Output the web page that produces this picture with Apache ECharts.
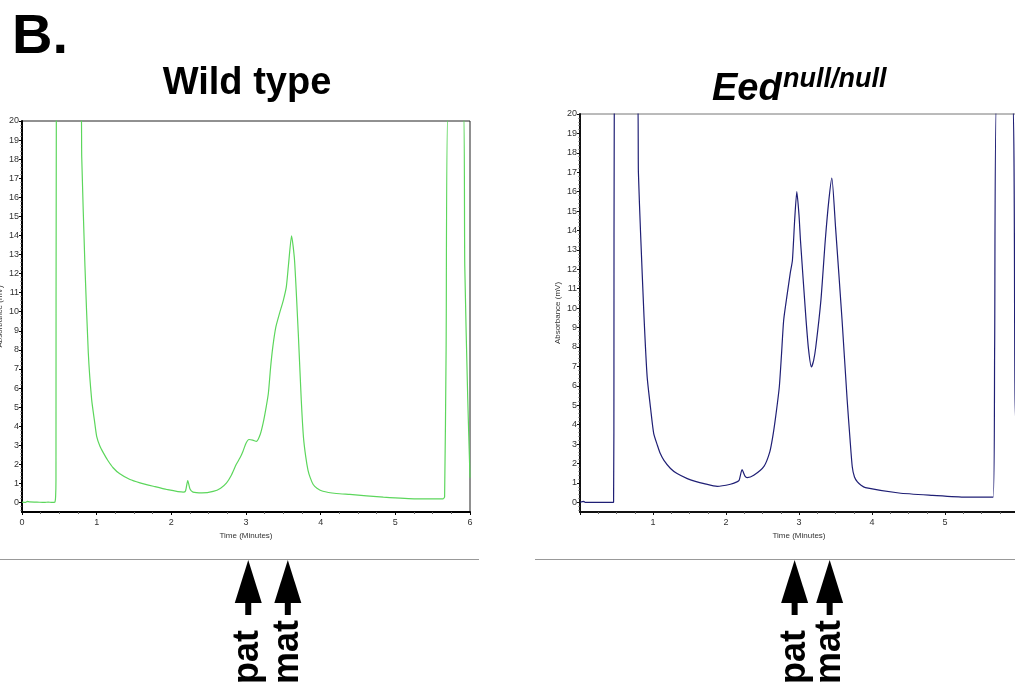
<!DOCTYPE html>
<html><head><meta charset="utf-8">
<script src="https://cdn.jsdelivr.net/npm/echarts@6/dist/echarts.min.js"></script>
<style>html,body{margin:0;padding:0;background:#fff}#c{width:1015px;height:692px}</style>
</head><body><div id="c"></div>
<script>
// ---- Data ----
const wtTime = [0, 0.05, 0.07, 0.1, 0.2, 0.3, 0.35, 0.4, 0.44, 0.45, 0.455, 0.46, 0.79, 0.80, 0.843, 0.888, 0.933, 0.97, 1.0, 1.044, 1.09, 1.15, 1.22, 1.31, 1.446, 1.58, 1.76, 1.94, 2.16, 2.19, 2.22, 2.25, 2.29, 2.41, 2.56, 2.66, 2.74, 2.80, 2.87, 2.92, 2.96, 3.0, 3.04, 3.09, 3.14, 3.19, 3.23, 3.27, 3.30, 3.33, 3.36, 3.40, 3.45, 3.50, 3.54, 3.57, 3.61, 3.65, 3.70, 3.74, 3.77, 3.80, 3.83, 3.86, 3.90, 3.95, 4.03, 4.21, 4.39, 4.84, 5.28, 5.64, 5.66, 5.68, 5.71, 5.91, 5.93, 5.97, 6.0];
const wtAbs  = [0.02, 0.0, 0.06, 0.03, 0.02, 0.0, 0.02, 0.0, 0.02, 0.3, 1.2, 21, 21, 18.1, 12.4, 7.84, 5.39, 4.3, 3.47, 2.95, 2.6, 2.2, 1.82, 1.5, 1.2, 1.03, 0.85, 0.68, 0.54, 0.6, 1.15, 0.7, 0.54, 0.5, 0.58, 0.75, 1.03, 1.4, 2.0, 2.34, 2.69, 3.1, 3.3, 3.27, 3.2, 3.56, 4.17, 5.0, 5.74, 7.1, 8.18, 9.2, 9.93, 10.6, 11.3, 12.5, 13.98, 12.7, 8.88, 5.39, 3.4, 2.4, 1.7, 1.3, 0.94, 0.75, 0.59, 0.47, 0.42, 0.28, 0.19, 0.19, 0.3, 8, 21, 21, 12.4, 5.4, 1.3];

const eedTime = [0, 0.05, 0.07, 0.2, 0.46, 0.465, 0.47, 0.79, 0.80, 0.83, 0.877, 0.92, 0.97, 1.01, 1.06, 1.10, 1.15, 1.24, 1.33, 1.47, 1.58, 1.70, 1.88, 2.06, 2.15, 2.18, 2.22, 2.26, 2.29, 2.38, 2.52, 2.60, 2.64, 2.68, 2.73, 2.76, 2.79, 2.84, 2.88, 2.91, 2.94, 2.97, 3.0, 3.02, 3.09, 3.13, 3.17, 3.20, 3.23, 3.30, 3.36, 3.41, 3.45, 3.50, 3.59, 3.66, 3.70, 3.73, 3.76, 3.80, 3.85, 3.91, 4.37, 4.83, 5.28, 5.66, 5.68, 5.71, 5.92, 5.96, 6.0];
const eedAbs  = [0.0, 0.05, 0.0, 0.0, 0.0, 7, 21, 21, 17, 13.85, 9.55, 6.46, 4.74, 3.54, 2.94, 2.51, 2.16, 1.74, 1.48, 1.22, 1.08, 0.96, 0.82, 0.93, 1.05, 1.13, 1.68, 1.35, 1.27, 1.39, 1.85, 2.6, 3.37, 4.4, 5.94, 7.6, 9.38, 10.76, 11.8, 12.47, 14.5, 16.0, 14.8, 13.5, 9.73, 7.9, 6.97, 7.3, 8.0, 10.4, 13.5, 15.6, 16.7, 14.2, 9.38, 5.26, 3.2, 1.82, 1.3, 1.05, 0.88, 0.76, 0.48, 0.36, 0.27, 0.27, 8, 21, 21, 5.3, 1.5];

const yTickLabels = [0,1,2,3,4,5,6,7,8,9,10,11,12,13,14,15,16,17,18,19,20];
const wtXTickLabels = [0,1,2,3,4,5,6];
const eedXTickLabels = [1,2,3,4,5,6];
const wtArrowTimes = [3.03, 3.56];
const eedArrowTimes = [2.94, 3.42];
const arrowLabels = ['pat', 'mat'];
const arrowLabelTops = [630, 620];

// minor tick positions on the absorbance axes (every 0.2 mV)
const minorY = [];
for (let k = -2; k <= 100; k++) { if (k % 5 !== 0) minorY.push(Math.round(k * 20) / 100); }

const FONT = '"Liberation Sans", Arial, Helvetica, sans-serif';
const chart = echarts.init(document.getElementById('c'), null, {renderer: 'canvas'});

function yMain(gi, col) {
  return {
    gridIndex: gi, type: 'value', min: -0.5, max: 20, position: 'left',
    axisLine: {show: true, onZero: false, lineStyle: {color: col, width: 2}},
    axisTick: {show: true, customValues: yTickLabels, length: 3, lineStyle: {color: col}},
    axisLabel: {customValues: yTickLabels, fontSize: 9, color: '#333', margin: 3, fontFamily: FONT},
    splitLine: {show: false},
    name: 'Absorbance (mV)', nameLocation: 'middle', nameGap: 18,
    nameTextStyle: {fontSize: 8, color: '#333', fontFamily: FONT}
  };
}
function yMinor(gi, col) {
  return {
    gridIndex: gi, type: 'value', min: -0.5, max: 20, position: 'left', offset: 0,
    axisLine: {show: false},
    axisTick: {show: true, customValues: minorY, length: 1.5, lineStyle: {color: col}},
    axisLabel: {show: false}, splitLine: {show: false}
  };
}
function xMain(gi, col, labels) {
  return {
    gridIndex: gi, type: 'value', min: 0, max: 6, interval: 1,
    axisLine: {show: true, onZero: false, lineStyle: {color: col, width: 2}},
    axisTick: {show: true, length: 3, lineStyle: {color: col}},
    minorTick: {show: true, splitNumber: 4, length: 2, lineStyle: {color: '#666'}},
    axisLabel: {customValues: labels, fontSize: 9, color: '#333', margin: 6, fontFamily: FONT},
    splitLine: {show: false}, minorSplitLine: {show: false},
    name: 'Time (Minutes)', nameLocation: 'middle', nameGap: 19,
    nameTextStyle: {fontSize: 8, color: '#333', fontFamily: FONT}
  };
}

chart.setOption({
  animation: false,
  backgroundColor: '#fff',
  grid: [
    {left: 22, top: 121, width: 448, height: 391, show: true, borderColor: '#222', borderWidth: 1, backgroundColor: 'transparent', containLabel: false, outerBoundsMode: 'none'},
    {left: 580, top: 114, width: 438, height: 398, show: true, borderColor: '#777', borderWidth: 1, backgroundColor: 'transparent', containLabel: false, outerBoundsMode: 'none'}
  ],
  xAxis: [xMain(0, '#000', wtXTickLabels), xMain(1, '#111', eedXTickLabels)],
  yAxis: [yMain(0, '#000'), yMinor(0, '#555'), yMain(1, '#111'), yMinor(1, '#555')],
  series: [
    {type: 'line', xAxisIndex: 0, yAxisIndex: 0, showSymbol: false, clip: true, smooth: 0.2,
     lineStyle: {color: '#5cd65c', width: 1.2},
     data: wtTime.map((t, i) => [t, wtAbs[i]])},
    {type: 'line', xAxisIndex: 1, yAxisIndex: 2, showSymbol: false, clip: true, smooth: 0.2,
     lineStyle: {color: '#1f1f75', width: 1.2},
     data: eedTime.map((t, i) => [t, eedAbs[i]])}
  ]
});

function arrows(xIdx, times) {
  const els = [];
  times.forEach((t, i) => {
    const x = chart.convertToPixel({xAxisIndex: xIdx}, t);
    els.push({type: 'polygon', shape: {points: [[x - 13.5, 603], [x, 560], [x + 13.5, 603]]}, style: {fill: '#000'}});
    els.push({type: 'rect', shape: {x: x - 3, y: 602, width: 6, height: 13}, style: {fill: '#000'}});
    els.push({type: 'text', x: x, y: arrowLabelTops[i], rotation: Math.PI / 2,
      style: {text: arrowLabels[i], font: 'bold 36px ' + FONT, fill: '#000', align: 'right', verticalAlign: 'middle'}});
  });
  return els;
}

chart.setOption({
  graphic: [
    {type: 'text', x: 12, y: 38, style: {text: 'B.', font: 'bold 56px ' + FONT, fill: '#000', align: 'left', verticalAlign: 'middle'}},
    {type: 'text', x: 247, y: 84, style: {text: 'Wild type', font: 'bold 38px ' + FONT, fill: '#000', align: 'center', verticalAlign: 'middle'}},
    {type: 'text', x: 712, y: 90, style: {text: 'Eed', font: 'italic bold 38px ' + FONT, fill: '#000', align: 'left', verticalAlign: 'middle'}},
    {type: 'text', x: 783, y: 80, style: {text: 'null/null', font: 'italic bold 27px ' + FONT, fill: '#000', align: 'left', verticalAlign: 'middle'}},
    {type: 'line', shape: {x1: 0, y1: 559.5, x2: 479, y2: 559.5}, style: {stroke: '#999', lineWidth: 1}},
    {type: 'line', shape: {x1: 535, y1: 559.5, x2: 1015, y2: 559.5}, style: {stroke: '#999', lineWidth: 1}}
  ].concat(arrows(0, wtArrowTimes)).concat(arrows(1, eedArrowTimes))
});
</script>
</body></html>
